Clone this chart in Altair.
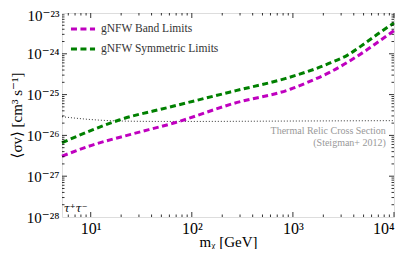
import altair as alt
import pandas as pd

# ---- data ----
band_mass = [5.2, 10.4, 24.9, 69, 261, 955, 1449, 2376, 5050, 7430, 10000]
band_sv = [3.1e-27, 5.8e-27, 1.06e-26, 2.07e-26, 6.1e-26, 1.37e-25, 2.07e-25, 3.64e-25, 1.12e-24, 2.18e-24, 3.68e-24]

sym_mass = [5.2, 10.4, 19.1, 59.7, 273, 853, 2376, 3475, 5050, 7430, 10000]
sym_sv = [6.6e-27, 1.36e-26, 2.38e-26, 4.9e-26, 1.25e-25, 2.5e-25, 6.05e-25, 9.3e-25, 1.74e-24, 3.47e-24, 5.7e-24]

relic_mass = [5.2, 10, 20, 50, 100, 1000, 10000]
relic_sv = [2.87e-26, 2.45e-26, 2.25e-26, 2.2e-26, 2.2e-26, 2.25e-26, 2.3e-26]

series_names = ["gNFW Band Limits", "gNFW Symmetric Limits"]
series_colors = ["#bf00bf", "#008000"]

x_major = [10, 100, 1000, 10000]
x_labels = ["10¹", "10²", "10³", "10⁴"]
y_major = [1e-28, 1e-27, 1e-26, 1e-25, 1e-24, 1e-23]
y_labels = ["10⁻²⁸", "10⁻²⁷", "10⁻²⁶", "10⁻²⁵", "10⁻²⁴", "10⁻²³"]

x_minor = [m * 10 ** k for k in range(0, 4) for m in range(2, 10) if 5.2 <= m * 10 ** k <= 10000]
y_minor = [m * 10.0 ** k for k in range(-28, -23) for m in range(2, 10)]

annot_text = ["Thermal Relic Cross Section", "(Steigman+ 2012)"]
annot_mass = [8300, 8300]
annot_sv = [1.3e-26, 0.66e-26]

channel_label = ["τ⁺τ⁻"]
channel_mass = [5.4]
channel_sv = [1.55e-28]

W, H = 332, 204
XDOM = [5.2, 10000]
YDOM = [1e-28, 1e-23]
SERIF = "Liberation Serif, DejaVu Serif, serif"

xs = alt.Scale(type="log", domain=XDOM, nice=False)
ys = alt.Scale(type="log", domain=YDOM, nice=False)

df = pd.DataFrame(
    {"mass": band_mass + sym_mass,
     "sv": band_sv + sym_sv,
     "series": [series_names[0]] * len(band_mass) + [series_names[1]] * len(sym_mass)}
)
relic = pd.DataFrame({"mass": relic_mass, "sv": relic_sv})

x_lab_expr = "['10¹','10²','10³','10⁴'][round(log(datum.value)/LN10)-1]"
y_lab_expr = "['10⁻²⁸','10⁻²⁷','10⁻²⁶','10⁻²⁵','10⁻²⁴','10⁻²³'][round(log(datum.value)/LN10)+28]"

lines = alt.Chart(df).mark_line(strokeWidth=3, strokeDash=[6, 3.5], interpolate="monotone").encode(
    x=alt.X("mass:Q", scale=xs,
            axis=alt.Axis(values=x_major, labelExpr=x_lab_expr, ticks=False, domain=False, grid=False,
                          labelFont=SERIF, labelFontSize=16, labelColor="#000", labelPadding=3,
                          title="mᵪ [GeV]", titleFont=SERIF, titleFontSize=15, titleFontWeight="normal",
                          titleColor="#000", titleY=24, titleBaseline="middle")),
    y=alt.Y("sv:Q", scale=ys,
            axis=alt.Axis(values=y_major, labelExpr=y_lab_expr, ticks=False, domain=False, grid=False,
                          labelFont=SERIF, labelFontSize=15, labelColor="#000", labelPadding=3,
                          labelOffset={"condition": {"test": "datum.value > 5e-24", "value": 2}, "value": 0},
                          title="⟨σv⟩ [cm³ s⁻¹]", titleFont=SERIF, titleFontSize=15,
                          titleFontWeight="normal", titleColor="#000", titleX=-46,
                          titleBaseline="middle")),
    color=alt.Color("series:N", scale=alt.Scale(domain=series_names, range=series_colors),
                    legend=alt.Legend(title=None, orient="none", legendX=7, legendY=2,
                                      symbolType="stroke", symbolDash=[6, 3.5], symbolStrokeWidth=3,
                                      symbolSize=580, labelFont=SERIF, labelFontSize=11.5,
                                      labelColor="#333", labelOffset=4, rowPadding=-7, padding=0)),
)

relic_line = alt.Chart(relic).mark_line(strokeWidth=1, strokeDash=[1, 2], color="#333",
                                        interpolate="monotone").encode(
    x=alt.X("mass:Q", scale=xs), y=alt.Y("sv:Q", scale=ys))

annot = alt.Chart(pd.DataFrame({"t": annot_text, "mass": annot_mass, "sv": annot_sv})).mark_text(
    align="right", baseline="middle", font=SERIF, fontSize=10, color="#999").encode(
    x=alt.X("mass:Q", scale=xs), y=alt.Y("sv:Q", scale=ys), text="t:N")

chan = alt.Chart(pd.DataFrame({"t": channel_label, "mass": channel_mass, "sv": channel_sv})).mark_text(
    align="left", baseline="middle", font="DejaVu Serif", fontSize=11, fontStyle="italic",
    color="#000").encode(
    x=alt.X("mass:Q", scale=xs), y=alt.Y("sv:Q", scale=ys), text="t:N")


def xticks(vals, y0, y1):
    return alt.Chart(pd.DataFrame({"v": vals})).mark_rule(color="#000", strokeWidth=0.8).encode(
        x=alt.X("v:Q", scale=xs), y=alt.value(y0), y2=alt.value(y1))


def yticks(vals, x0, x1):
    return alt.Chart(pd.DataFrame({"v": vals})).mark_rule(color="#000", strokeWidth=0.8).encode(
        y=alt.Y("v:Q", scale=ys), x=alt.value(x0), x2=alt.value(x1))


ticks = [
    xticks(x_major, H, H - 5), xticks(x_minor, H, H - 2.5),
    xticks(x_major, 0, 5), xticks(x_minor, 0, 2.5),
    yticks(y_major[1:-1], 0, 5), yticks(y_minor, 0, 2.5),
    yticks(y_major[1:-1], W, W - 5), yticks(y_minor, W, W - 2.5),
]

chart = alt.layer(relic_line, lines, annot, chan, *ticks).properties(
    width=W, height=H,
    autosize=alt.AutoSizeParams(type="none"),
    padding={"left": 54, "top": 5, "right": 13, "bottom": 32},
).configure_view(stroke="#000", strokeWidth=1.2).configure(background="white")

chart.save("out.html", embed_options={"renderer": "svg", "actions": False})
